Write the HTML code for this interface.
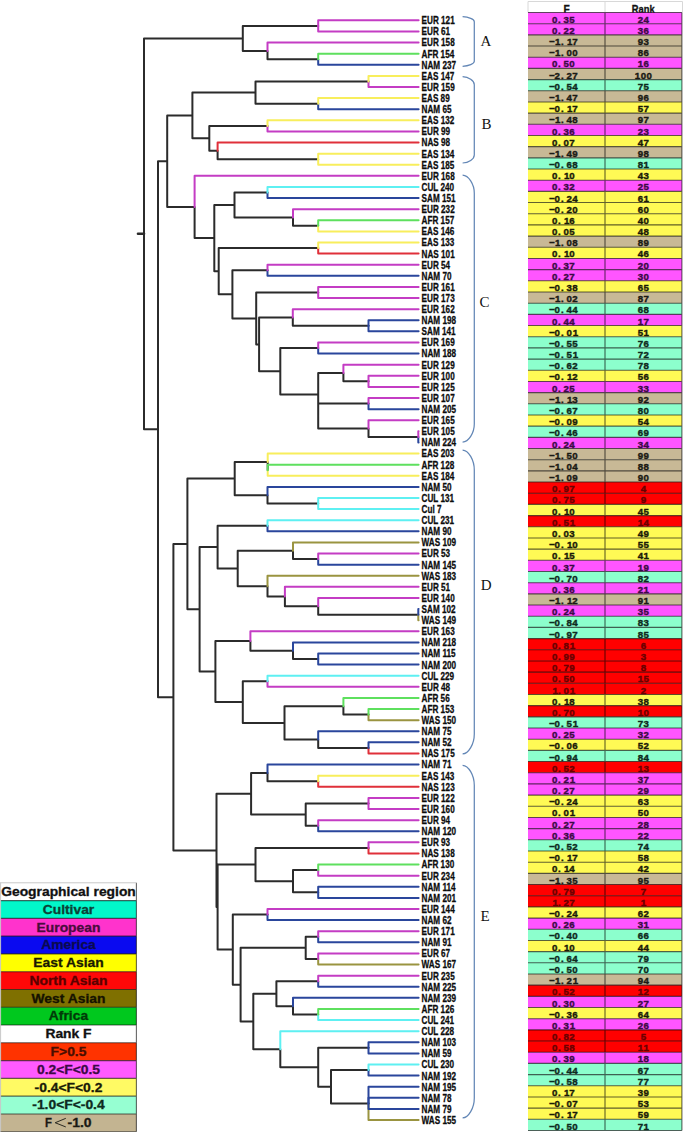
<!DOCTYPE html><html><head><meta charset="utf-8"><style>html,body{margin:0;padding:0;background:#fff;}svg{display:block}</style></head><body>
<svg width="685" height="1132" viewBox="0 0 685 1132">
<rect width="685" height="1132" fill="#fff"/>
<g fill="none" stroke-width="2" stroke-linejoin="round" stroke-linecap="round">
<path stroke="#2b2b2b" d="M267.50 50.90V59.23H318.20M242.80 38.40V25.90H318.20M242.80 38.40V50.90H267.50M255.50 92.55V81.44H368.50M255.50 92.55V103.66H318.20M217.60 150.87V159.20H318.20M209.30 138.37V125.88H267.50M209.30 138.37V150.87H217.60M192.40 115.46V92.55H255.50M192.40 115.46V138.37H209.30M293.00 217.52V225.85H318.20M234.50 205.02V192.52H267.50M234.50 205.02V217.52H293.00M292.80 317.49V325.82H368.50M343.40 373.03V381.36H368.50M368.50 428.57V436.90H418.30M318.20 416.07V403.58H368.50M318.20 416.07V428.57H368.50M318.20 394.55V373.03H343.40M318.20 394.55V416.07H318.20M280.30 371.29V348.04H318.20M280.30 371.29V394.55H318.20M259.10 344.39V317.49H292.80M259.10 344.39V371.29H280.30M256.20 318.44V292.50H318.20M256.20 318.44V344.39H259.10M232.40 294.36V270.28H267.50M232.40 294.36V318.44H256.20M218.70 271.21V248.06H318.20M218.70 271.21V294.36H232.40M214.30 238.12V205.02H234.50M214.30 238.12V271.21H218.70M194.60 206.99V238.12H214.30M167.20 161.23V115.46H192.40M167.20 161.23V206.99H194.60M267.70 461.89V470.22H267.70M267.50 495.22V503.55H318.20M234.70 478.56V461.89H267.70M234.70 478.56V495.22H267.50M293.00 550.76V559.09H318.20M318.20 606.30V614.63H418.30M284.90 596.58V606.30H318.20M267.50 586.16V596.58H284.90M237.70 568.46V550.76H293.00M237.70 568.46V586.16H267.50M217.60 547.11V525.76H267.50M217.60 547.11V568.46H237.70M293.00 650.73V659.06H318.20M250.40 641.01V650.73H293.00M343.40 706.27V714.60H368.50M318.20 739.59V747.92H368.50M284.50 722.93V706.27H343.40M284.50 722.93V739.59H318.20M242.80 702.10V681.28H267.50M242.80 702.10V722.93H284.50M215.40 671.56V641.01H250.40M215.40 671.56V702.10H242.80M199.60 609.33V547.11H217.60M199.60 609.33V671.56H215.40M187.40 543.94V478.56H234.70M187.40 543.94V609.33H199.60M267.50 772.92V781.25H318.20M305.70 814.57V803.46H368.50M305.70 814.57V825.68H318.20M251.10 793.74V772.92H267.50M251.10 793.74V814.57H305.70M293.00 881.22V870.11H318.20M293.00 881.22V892.33H318.20M255.50 864.56V847.90H368.50M255.50 864.56V881.22H293.00M305.70 947.87V936.76H318.20M305.70 947.87V958.98H318.20M293.00 1006.19V1014.52H318.20M276.40 993.69V981.19H318.20M276.40 993.69V1006.19H293.00M331.00 1086.72V1070.06H368.50M331.00 1086.72V1103.38H368.50M318.20 1067.28V1047.84H368.50M318.20 1067.28V1086.72H331.00M280.30 1049.23V1067.28H318.20M253.30 1021.46V993.69H276.40M253.30 1021.46V1049.23H280.30M240.60 984.66V947.87H305.70M240.60 984.66V1021.46H253.30M232.80 949.60V914.54H267.50M232.80 949.60V984.66H240.60M217.60 907.08V864.56H255.50M217.60 907.08V949.60H232.80M216.50 850.41V793.74H251.10M216.50 850.41V907.08H217.60M173.40 697.18V543.94H187.40M173.40 697.18V850.41H216.50M158.00 429.20V161.23H167.20M158.00 429.20V697.18H173.40M144.00 233.80V38.40H242.80M144.00 233.80V429.20H158.00"/>
<path stroke="#2b2b2b" stroke-width="2.6" d="M138 233.80H144"/>
<path stroke="#5ef0f2" d="M280.30 1049.23V1031.18H418.60"/>
<path stroke="#9a9440" d="M368.50 1103.38V1120.04H418.60"/>
<path stroke="#2a469c" d="M368.50 1103.38V1108.93H418.60"/>
<path stroke="#2a469c" d="M368.50 1103.38V1097.83H418.60"/>
<path stroke="#2a469c" d="M368.50 1103.38V1086.72H418.60"/>
<path stroke="#2a469c" d="M368.50 1070.06V1075.61H418.60"/>
<path stroke="#5ef0f2" d="M368.50 1070.06V1064.50H418.60"/>
<path stroke="#2a469c" d="M368.50 1047.84V1053.39H418.60"/>
<path stroke="#2a469c" d="M368.50 1047.84V1042.29H418.60"/>
<path stroke="#2a469c" d="M293.00 1006.19V997.85H418.60"/>
<path stroke="#5ef0f2" d="M318.20 1014.52V1020.07H418.60"/>
<path stroke="#5ee05e" d="M318.20 1014.52V1008.96H418.60"/>
<path stroke="#2a469c" d="M318.20 981.19V986.75H418.60"/>
<path stroke="#c43cc4" d="M318.20 981.19V975.64H418.60"/>
<path stroke="#9a9440" d="M318.20 958.98V964.53H418.60"/>
<path stroke="#c43cc4" d="M318.20 958.98V953.42H418.60"/>
<path stroke="#2a469c" d="M318.20 936.76V942.31H418.60"/>
<path stroke="#c43cc4" d="M318.20 936.76V931.21H418.60"/>
<path stroke="#2a469c" d="M267.50 914.54V920.10H418.60"/>
<path stroke="#c43cc4" d="M267.50 914.54V908.99H418.60"/>
<path stroke="#2a469c" d="M318.20 892.33V897.88H418.60"/>
<path stroke="#2a469c" d="M318.20 892.33V886.77H418.60"/>
<path stroke="#c43cc4" d="M318.20 870.11V875.67H418.60"/>
<path stroke="#5ee05e" d="M318.20 870.11V864.56H418.60"/>
<path stroke="#e0303a" d="M368.50 847.90V853.45H418.60"/>
<path stroke="#c43cc4" d="M368.50 847.90V842.34H418.60"/>
<path stroke="#2a469c" d="M318.20 825.68V831.23H418.60"/>
<path stroke="#c43cc4" d="M318.20 825.68V820.13H418.60"/>
<path stroke="#c43cc4" d="M368.50 803.46V809.02H418.60"/>
<path stroke="#c43cc4" d="M368.50 803.46V797.91H418.60"/>
<path stroke="#2a469c" d="M267.50 772.92V764.59H418.60"/>
<path stroke="#e0303a" d="M318.20 781.25V786.80H418.60"/>
<path stroke="#f8ee5c" d="M318.20 781.25V775.69H418.60"/>
<path stroke="#2a469c" d="M318.20 739.59V731.26H418.60"/>
<path stroke="#e0303a" d="M368.50 747.92V753.48H418.60"/>
<path stroke="#2a469c" d="M368.50 747.92V742.37H418.60"/>
<path stroke="#5ee05e" d="M343.40 706.27V697.94H418.60"/>
<path stroke="#9a9440" d="M368.50 714.60V720.15H418.60"/>
<path stroke="#5ee05e" d="M368.50 714.60V709.05H418.60"/>
<path stroke="#c43cc4" d="M267.50 681.28V686.83H418.60"/>
<path stroke="#5ef0f2" d="M267.50 681.28V675.72H418.60"/>
<path stroke="#c43cc4" d="M250.40 641.01V631.29H418.60"/>
<path stroke="#2a469c" d="M293.00 650.73V642.40H418.60"/>
<path stroke="#2a469c" d="M318.20 659.06V664.61H418.60"/>
<path stroke="#2a469c" d="M318.20 659.06V653.51H418.60"/>
<path stroke="#9a9440" d="M267.50 586.16V575.75H418.60"/>
<path stroke="#c43cc4" d="M284.90 596.58V586.86H418.60"/>
<path stroke="#c43cc4" d="M318.20 606.30V597.97H418.60"/>
<path stroke="#9a9440" d="M418.30 614.63V620.18H418.60"/>
<path stroke="#2a469c" d="M418.30 614.63V609.07H418.60"/>
<path stroke="#9a9440" d="M293.00 550.76V542.43H418.60"/>
<path stroke="#2a469c" d="M318.20 559.09V564.64H418.60"/>
<path stroke="#c43cc4" d="M318.20 559.09V553.53H418.60"/>
<path stroke="#2a469c" d="M267.50 525.76V531.32H418.60"/>
<path stroke="#5ef0f2" d="M267.50 525.76V520.21H418.60"/>
<path stroke="#2a469c" d="M267.50 495.22V486.89H418.60"/>
<path stroke="#5ef0f2" d="M318.20 503.55V509.10H418.60"/>
<path stroke="#5ef0f2" d="M318.20 503.55V497.99H418.60"/>
<path stroke="#f8ee5c" d="M267.70 461.89V453.56H418.60"/>
<path stroke="#f8ee5c" d="M267.70 470.22V475.78H418.60"/>
<path stroke="#5ee05e" d="M267.70 470.22V464.67H418.60"/>
<path stroke="#c43cc4" d="M194.60 206.99V175.86H418.60"/>
<path stroke="#c43cc4" d="M368.50 428.57V420.24H418.60"/>
<path stroke="#2a469c" d="M418.30 436.90V442.45H418.60"/>
<path stroke="#c43cc4" d="M418.30 436.90V431.35H418.60"/>
<path stroke="#2a469c" d="M368.50 403.58V409.13H418.60"/>
<path stroke="#c43cc4" d="M368.50 403.58V398.02H418.60"/>
<path stroke="#c43cc4" d="M343.40 373.03V364.70H418.60"/>
<path stroke="#c43cc4" d="M368.50 381.36V386.91H418.60"/>
<path stroke="#c43cc4" d="M368.50 381.36V375.81H418.60"/>
<path stroke="#2a469c" d="M318.20 348.04V353.59H418.60"/>
<path stroke="#c43cc4" d="M318.20 348.04V342.48H418.60"/>
<path stroke="#c43cc4" d="M292.80 317.49V309.16H418.60"/>
<path stroke="#2a469c" d="M368.50 325.82V331.37H418.60"/>
<path stroke="#2a469c" d="M368.50 325.82V320.27H418.60"/>
<path stroke="#c43cc4" d="M318.20 292.50V298.05H418.60"/>
<path stroke="#c43cc4" d="M318.20 292.50V286.94H418.60"/>
<path stroke="#2a469c" d="M267.50 270.28V275.83H418.60"/>
<path stroke="#c43cc4" d="M267.50 270.28V264.73H418.60"/>
<path stroke="#e0303a" d="M318.20 248.06V253.62H418.60"/>
<path stroke="#f8ee5c" d="M318.20 248.06V242.51H418.60"/>
<path stroke="#c43cc4" d="M293.00 217.52V209.19H418.60"/>
<path stroke="#f8ee5c" d="M318.20 225.85V231.40H418.60"/>
<path stroke="#5ee05e" d="M318.20 225.85V220.29H418.60"/>
<path stroke="#2a469c" d="M267.50 192.52V198.08H418.60"/>
<path stroke="#5ef0f2" d="M267.50 192.52V186.97H418.60"/>
<path stroke="#e0303a" d="M217.60 150.87V142.54H418.60"/>
<path stroke="#f8ee5c" d="M318.20 159.20V164.75H418.60"/>
<path stroke="#f8ee5c" d="M318.20 159.20V153.65H418.60"/>
<path stroke="#c43cc4" d="M267.50 125.88V131.43H418.60"/>
<path stroke="#f8ee5c" d="M267.50 125.88V120.32H418.60"/>
<path stroke="#2a469c" d="M318.20 103.66V109.21H418.60"/>
<path stroke="#f8ee5c" d="M318.20 103.66V98.11H418.60"/>
<path stroke="#c43cc4" d="M368.50 81.44V87.00H418.60"/>
<path stroke="#f8ee5c" d="M368.50 81.44V75.89H418.60"/>
<path stroke="#c43cc4" d="M267.50 50.90V42.57H418.60"/>
<path stroke="#2a469c" d="M318.20 59.23V64.78H418.60"/>
<path stroke="#5ee05e" d="M318.20 59.23V53.67H418.60"/>
<path stroke="#c43cc4" d="M318.20 25.90V31.46H418.60"/>
<path stroke="#c43cc4" d="M318.20 25.90V20.35H418.60"/>
</g>
<g font-family="Liberation Sans, sans-serif" font-weight="bold" font-size="10.8" fill="#0c0c0c" stroke="#0c0c0c" stroke-width="0.3">
<text x="421.6" y="24.25" textLength="33.09" lengthAdjust="spacingAndGlyphs">EUR 121</text>
<text x="421.6" y="35.36" textLength="28.55" lengthAdjust="spacingAndGlyphs">EUR 61</text>
<text x="421.6" y="46.47" textLength="33.09" lengthAdjust="spacingAndGlyphs">EUR 158</text>
<text x="421.6" y="57.57" textLength="32.63" lengthAdjust="spacingAndGlyphs">AFR 154</text>
<text x="421.6" y="68.68" textLength="34.44" lengthAdjust="spacingAndGlyphs">NAM 237</text>
<text x="421.6" y="79.79" textLength="32.64" lengthAdjust="spacingAndGlyphs">EAS 147</text>
<text x="421.6" y="90.90" textLength="33.09" lengthAdjust="spacingAndGlyphs">EUR 159</text>
<text x="421.6" y="102.01" textLength="28.10" lengthAdjust="spacingAndGlyphs">EAS 89</text>
<text x="421.6" y="113.11" textLength="29.90" lengthAdjust="spacingAndGlyphs">NAM 65</text>
<text x="421.6" y="124.22" textLength="32.64" lengthAdjust="spacingAndGlyphs">EAS 132</text>
<text x="421.6" y="135.33" textLength="28.55" lengthAdjust="spacingAndGlyphs">EUR 99</text>
<text x="421.6" y="146.44" textLength="28.55" lengthAdjust="spacingAndGlyphs">NAS 98</text>
<text x="421.6" y="157.55" textLength="32.64" lengthAdjust="spacingAndGlyphs">EAS 134</text>
<text x="421.6" y="168.65" textLength="32.64" lengthAdjust="spacingAndGlyphs">EAS 185</text>
<text x="421.6" y="179.76" textLength="33.09" lengthAdjust="spacingAndGlyphs">EUR 168</text>
<text x="421.6" y="190.87" textLength="32.48" lengthAdjust="spacingAndGlyphs">CUL 240</text>
<text x="421.6" y="201.98" textLength="33.99" lengthAdjust="spacingAndGlyphs">SAM 151</text>
<text x="421.6" y="213.09" textLength="33.09" lengthAdjust="spacingAndGlyphs">EUR 232</text>
<text x="421.6" y="224.19" textLength="32.63" lengthAdjust="spacingAndGlyphs">AFR 157</text>
<text x="421.6" y="235.30" textLength="32.64" lengthAdjust="spacingAndGlyphs">EAS 146</text>
<text x="421.6" y="246.41" textLength="32.64" lengthAdjust="spacingAndGlyphs">EAS 133</text>
<text x="421.6" y="257.52" textLength="33.09" lengthAdjust="spacingAndGlyphs">NAS 101</text>
<text x="421.6" y="268.63" textLength="28.55" lengthAdjust="spacingAndGlyphs">EUR 54</text>
<text x="421.6" y="279.73" textLength="29.90" lengthAdjust="spacingAndGlyphs">NAM 70</text>
<text x="421.6" y="290.84" textLength="33.09" lengthAdjust="spacingAndGlyphs">EUR 161</text>
<text x="421.6" y="301.95" textLength="33.09" lengthAdjust="spacingAndGlyphs">EUR 173</text>
<text x="421.6" y="313.06" textLength="33.09" lengthAdjust="spacingAndGlyphs">EUR 162</text>
<text x="421.6" y="324.17" textLength="34.44" lengthAdjust="spacingAndGlyphs">NAM 198</text>
<text x="421.6" y="335.27" textLength="33.99" lengthAdjust="spacingAndGlyphs">SAM 141</text>
<text x="421.6" y="346.38" textLength="33.09" lengthAdjust="spacingAndGlyphs">EUR 169</text>
<text x="421.6" y="357.49" textLength="34.44" lengthAdjust="spacingAndGlyphs">NAM 188</text>
<text x="421.6" y="368.60" textLength="33.09" lengthAdjust="spacingAndGlyphs">EUR 129</text>
<text x="421.6" y="379.71" textLength="33.09" lengthAdjust="spacingAndGlyphs">EUR 100</text>
<text x="421.6" y="390.81" textLength="33.09" lengthAdjust="spacingAndGlyphs">EUR 125</text>
<text x="421.6" y="401.92" textLength="33.09" lengthAdjust="spacingAndGlyphs">EUR 107</text>
<text x="421.6" y="413.03" textLength="34.44" lengthAdjust="spacingAndGlyphs">NAM 205</text>
<text x="421.6" y="424.14" textLength="33.09" lengthAdjust="spacingAndGlyphs">EUR 165</text>
<text x="421.6" y="435.25" textLength="33.09" lengthAdjust="spacingAndGlyphs">EUR 105</text>
<text x="421.6" y="446.35" textLength="34.44" lengthAdjust="spacingAndGlyphs">NAM 224</text>
<text x="421.6" y="457.46" textLength="32.64" lengthAdjust="spacingAndGlyphs">EAS 203</text>
<text x="421.6" y="468.57" textLength="32.63" lengthAdjust="spacingAndGlyphs">AFR 128</text>
<text x="421.6" y="479.68" textLength="32.64" lengthAdjust="spacingAndGlyphs">EAS 184</text>
<text x="421.6" y="490.79" textLength="29.90" lengthAdjust="spacingAndGlyphs">NAM 50</text>
<text x="421.6" y="501.89" textLength="32.48" lengthAdjust="spacingAndGlyphs">CUL 131</text>
<text x="421.6" y="513.00" textLength="19.93" lengthAdjust="spacingAndGlyphs">Cul 7</text>
<text x="421.6" y="524.11" textLength="32.48" lengthAdjust="spacingAndGlyphs">CUL 231</text>
<text x="421.6" y="535.22" textLength="29.90" lengthAdjust="spacingAndGlyphs">NAM 90</text>
<text x="421.6" y="546.33" textLength="34.44" lengthAdjust="spacingAndGlyphs">WAS 109</text>
<text x="421.6" y="557.43" textLength="28.55" lengthAdjust="spacingAndGlyphs">EUR 53</text>
<text x="421.6" y="568.54" textLength="34.44" lengthAdjust="spacingAndGlyphs">NAM 145</text>
<text x="421.6" y="579.65" textLength="34.44" lengthAdjust="spacingAndGlyphs">WAS 183</text>
<text x="421.6" y="590.76" textLength="28.55" lengthAdjust="spacingAndGlyphs">EUR 51</text>
<text x="421.6" y="601.87" textLength="33.09" lengthAdjust="spacingAndGlyphs">EUR 140</text>
<text x="421.6" y="612.97" textLength="33.99" lengthAdjust="spacingAndGlyphs">SAM 102</text>
<text x="421.6" y="624.08" textLength="34.44" lengthAdjust="spacingAndGlyphs">WAS 149</text>
<text x="421.6" y="635.19" textLength="33.09" lengthAdjust="spacingAndGlyphs">EUR 163</text>
<text x="421.6" y="646.30" textLength="34.44" lengthAdjust="spacingAndGlyphs">NAM 218</text>
<text x="421.6" y="657.41" textLength="33.99" lengthAdjust="spacingAndGlyphs">NAM 115</text>
<text x="421.6" y="668.51" textLength="34.44" lengthAdjust="spacingAndGlyphs">NAM 200</text>
<text x="421.6" y="679.62" textLength="32.48" lengthAdjust="spacingAndGlyphs">CUL 229</text>
<text x="421.6" y="690.73" textLength="28.55" lengthAdjust="spacingAndGlyphs">EUR 48</text>
<text x="421.6" y="701.84" textLength="28.09" lengthAdjust="spacingAndGlyphs">AFR 56</text>
<text x="421.6" y="712.95" textLength="32.63" lengthAdjust="spacingAndGlyphs">AFR 153</text>
<text x="421.6" y="724.05" textLength="34.44" lengthAdjust="spacingAndGlyphs">WAS 150</text>
<text x="421.6" y="735.16" textLength="29.90" lengthAdjust="spacingAndGlyphs">NAM 75</text>
<text x="421.6" y="746.27" textLength="29.90" lengthAdjust="spacingAndGlyphs">NAM 52</text>
<text x="421.6" y="757.38" textLength="33.09" lengthAdjust="spacingAndGlyphs">NAS 175</text>
<text x="421.6" y="768.49" textLength="29.90" lengthAdjust="spacingAndGlyphs">NAM 71</text>
<text x="421.6" y="779.59" textLength="32.64" lengthAdjust="spacingAndGlyphs">EAS 143</text>
<text x="421.6" y="790.70" textLength="33.09" lengthAdjust="spacingAndGlyphs">NAS 123</text>
<text x="421.6" y="801.81" textLength="33.09" lengthAdjust="spacingAndGlyphs">EUR 122</text>
<text x="421.6" y="812.92" textLength="33.09" lengthAdjust="spacingAndGlyphs">EUR 160</text>
<text x="421.6" y="824.03" textLength="28.55" lengthAdjust="spacingAndGlyphs">EUR 94</text>
<text x="421.6" y="835.13" textLength="34.44" lengthAdjust="spacingAndGlyphs">NAM 120</text>
<text x="421.6" y="846.24" textLength="28.55" lengthAdjust="spacingAndGlyphs">EUR 93</text>
<text x="421.6" y="857.35" textLength="33.09" lengthAdjust="spacingAndGlyphs">NAS 138</text>
<text x="421.6" y="868.46" textLength="32.63" lengthAdjust="spacingAndGlyphs">AFR 130</text>
<text x="421.6" y="879.57" textLength="33.09" lengthAdjust="spacingAndGlyphs">EUR 234</text>
<text x="421.6" y="890.67" textLength="33.99" lengthAdjust="spacingAndGlyphs">NAM 114</text>
<text x="421.6" y="901.78" textLength="34.44" lengthAdjust="spacingAndGlyphs">NAM 201</text>
<text x="421.6" y="912.89" textLength="33.09" lengthAdjust="spacingAndGlyphs">EUR 144</text>
<text x="421.6" y="924.00" textLength="29.90" lengthAdjust="spacingAndGlyphs">NAM 62</text>
<text x="421.6" y="935.11" textLength="33.09" lengthAdjust="spacingAndGlyphs">EUR 171</text>
<text x="421.6" y="946.21" textLength="29.90" lengthAdjust="spacingAndGlyphs">NAM 91</text>
<text x="421.6" y="957.32" textLength="28.55" lengthAdjust="spacingAndGlyphs">EUR 67</text>
<text x="421.6" y="968.43" textLength="34.44" lengthAdjust="spacingAndGlyphs">WAS 167</text>
<text x="421.6" y="979.54" textLength="33.09" lengthAdjust="spacingAndGlyphs">EUR 235</text>
<text x="421.6" y="990.65" textLength="34.44" lengthAdjust="spacingAndGlyphs">NAM 225</text>
<text x="421.6" y="1001.75" textLength="34.44" lengthAdjust="spacingAndGlyphs">NAM 239</text>
<text x="421.6" y="1012.86" textLength="32.63" lengthAdjust="spacingAndGlyphs">AFR 126</text>
<text x="421.6" y="1023.97" textLength="32.48" lengthAdjust="spacingAndGlyphs">CUL 241</text>
<text x="421.6" y="1035.08" textLength="32.48" lengthAdjust="spacingAndGlyphs">CUL 228</text>
<text x="421.6" y="1046.19" textLength="34.44" lengthAdjust="spacingAndGlyphs">NAM 103</text>
<text x="421.6" y="1057.29" textLength="29.90" lengthAdjust="spacingAndGlyphs">NAM 59</text>
<text x="421.6" y="1068.40" textLength="32.48" lengthAdjust="spacingAndGlyphs">CUL 230</text>
<text x="421.6" y="1079.51" textLength="34.44" lengthAdjust="spacingAndGlyphs">NAM 192</text>
<text x="421.6" y="1090.62" textLength="34.44" lengthAdjust="spacingAndGlyphs">NAM 195</text>
<text x="421.6" y="1101.73" textLength="29.90" lengthAdjust="spacingAndGlyphs">NAM 78</text>
<text x="421.6" y="1112.83" textLength="29.90" lengthAdjust="spacingAndGlyphs">NAM 79</text>
<text x="421.6" y="1123.94" textLength="34.44" lengthAdjust="spacingAndGlyphs">WAS 155</text>
</g>
<g fill="none" stroke="#6387b6" stroke-width="1.25">
<path d="M462.6 16.7 C468.6 16.9 474.3 19.2 474.3 21.7 V61.3 C474.3 63.8 468.6 66.1 462.6 66.3"/>
<path d="M462.6 76.7 C468.6 76.9 474.3 80.7 474.3 84.7 V155.0 C474.3 159.0 468.6 162.8 462.6 163.0"/>
<path d="M462.6 175.2 C468.6 175.39999999999998 474.3 184.2 474.3 193.2 V424.1 C474.3 433.1 468.6 441.90000000000003 462.6 442.1"/>
<path d="M462.6 450.1 C468.6 450.3 474.3 460.1 474.3 470.1 V733.9 C474.3 743.9 468.6 753.6999999999999 462.6 753.9"/>
<path d="M462.6 765.3 C468.6 765.5 474.3 775.3 474.3 785.3 V1097.9 C474.3 1107.9 468.6 1117.7 462.6 1117.9"/>
</g>
<g font-family="Liberation Serif, serif" font-size="15" fill="#111">
<text x="480.6" y="45.9">A</text>
<text x="481.6" y="129.4">B</text>
<text x="479.6" y="307.2">C</text>
<text x="480.8" y="590.0">D</text>
<text x="480.6" y="921.2">E</text>
</g>
<path d="M528.0 1.5H682.5M528.0 1.5V12.5M605.0 1.5V12.5M682.5 1.5V12.5" stroke="#d8d8d8" stroke-width="1" fill="none"/>
<g font-family="Liberation Sans, sans-serif" font-weight="bold" font-size="10.2" fill="#111" stroke="#111" stroke-width="0.3">
<text x="566.6" y="13.4" text-anchor="middle">F</text>
<text x="631.8" y="13.4" textLength="22.8" lengthAdjust="spacingAndGlyphs">Rank</text>
</g>
<rect x="528.0" y="12.50" width="153.90" height="11.18" fill="#ff55ff"/>
<rect x="528.0" y="23.68" width="153.90" height="11.18" fill="#ff55ff"/>
<rect x="528.0" y="34.86" width="153.90" height="11.18" fill="#c8b996"/>
<rect x="528.0" y="46.04" width="153.90" height="11.18" fill="#c8b996"/>
<rect x="528.0" y="57.22" width="153.90" height="11.18" fill="#ff55ff"/>
<rect x="528.0" y="68.40" width="153.90" height="11.18" fill="#c8b996"/>
<rect x="528.0" y="79.58" width="153.90" height="11.18" fill="#8cffcd"/>
<rect x="528.0" y="90.76" width="153.90" height="11.18" fill="#c8b996"/>
<rect x="528.0" y="101.94" width="153.90" height="11.18" fill="#fffa55"/>
<rect x="528.0" y="113.12" width="153.90" height="11.18" fill="#c8b996"/>
<rect x="528.0" y="124.30" width="153.90" height="11.18" fill="#ff55ff"/>
<rect x="528.0" y="135.48" width="153.90" height="11.18" fill="#fffa55"/>
<rect x="528.0" y="146.66" width="153.90" height="11.18" fill="#c8b996"/>
<rect x="528.0" y="157.84" width="153.90" height="11.18" fill="#8cffcd"/>
<rect x="528.0" y="169.02" width="153.90" height="11.18" fill="#fffa55"/>
<rect x="528.0" y="180.20" width="153.90" height="11.18" fill="#ff55ff"/>
<rect x="528.0" y="191.38" width="153.90" height="11.18" fill="#fffa55"/>
<rect x="528.0" y="202.56" width="153.90" height="11.18" fill="#fffa55"/>
<rect x="528.0" y="213.74" width="153.90" height="11.18" fill="#fffa55"/>
<rect x="528.0" y="224.92" width="153.90" height="11.18" fill="#fffa55"/>
<rect x="528.0" y="236.10" width="153.90" height="11.18" fill="#c8b996"/>
<rect x="528.0" y="247.28" width="153.90" height="11.18" fill="#fffa55"/>
<rect x="528.0" y="258.46" width="153.90" height="11.18" fill="#ff55ff"/>
<rect x="528.0" y="269.64" width="153.90" height="11.18" fill="#ff55ff"/>
<rect x="528.0" y="280.82" width="153.90" height="11.18" fill="#fffa55"/>
<rect x="528.0" y="292.00" width="153.90" height="11.18" fill="#c8b996"/>
<rect x="528.0" y="303.18" width="153.90" height="11.18" fill="#8cffcd"/>
<rect x="528.0" y="314.36" width="153.90" height="11.18" fill="#ff55ff"/>
<rect x="528.0" y="325.54" width="153.90" height="11.18" fill="#fffa55"/>
<rect x="528.0" y="336.72" width="153.90" height="11.18" fill="#8cffcd"/>
<rect x="528.0" y="347.90" width="153.90" height="11.18" fill="#8cffcd"/>
<rect x="528.0" y="359.08" width="153.90" height="11.18" fill="#8cffcd"/>
<rect x="528.0" y="370.26" width="153.90" height="11.18" fill="#fffa55"/>
<rect x="528.0" y="381.44" width="153.90" height="11.18" fill="#ff55ff"/>
<rect x="528.0" y="392.62" width="153.90" height="11.18" fill="#c8b996"/>
<rect x="528.0" y="403.80" width="153.90" height="11.18" fill="#8cffcd"/>
<rect x="528.0" y="414.98" width="153.90" height="11.18" fill="#fffa55"/>
<rect x="528.0" y="426.16" width="153.90" height="11.18" fill="#8cffcd"/>
<rect x="528.0" y="437.34" width="153.90" height="11.18" fill="#ff55ff"/>
<rect x="528.0" y="448.52" width="153.90" height="11.18" fill="#c8b996"/>
<rect x="528.0" y="459.70" width="153.90" height="11.18" fill="#c8b996"/>
<rect x="528.0" y="470.88" width="153.90" height="11.18" fill="#c8b996"/>
<rect x="528.0" y="482.06" width="153.90" height="11.18" fill="#ff0000"/>
<rect x="528.0" y="493.24" width="153.90" height="11.18" fill="#ff0000"/>
<rect x="528.0" y="504.42" width="153.90" height="11.18" fill="#fffa55"/>
<rect x="528.0" y="515.60" width="153.90" height="11.18" fill="#ff0000"/>
<rect x="528.0" y="526.78" width="153.90" height="11.18" fill="#fffa55"/>
<rect x="528.0" y="537.96" width="153.90" height="11.18" fill="#fffa55"/>
<rect x="528.0" y="549.14" width="153.90" height="11.18" fill="#fffa55"/>
<rect x="528.0" y="560.32" width="153.90" height="11.18" fill="#ff55ff"/>
<rect x="528.0" y="571.50" width="153.90" height="11.18" fill="#8cffcd"/>
<rect x="528.0" y="582.68" width="153.90" height="11.18" fill="#ff55ff"/>
<rect x="528.0" y="593.86" width="153.90" height="11.18" fill="#c8b996"/>
<rect x="528.0" y="605.04" width="153.90" height="11.18" fill="#ff55ff"/>
<rect x="528.0" y="616.22" width="153.90" height="11.18" fill="#8cffcd"/>
<rect x="528.0" y="627.40" width="153.90" height="11.18" fill="#8cffcd"/>
<rect x="528.0" y="638.58" width="153.90" height="11.18" fill="#ff0000"/>
<rect x="528.0" y="649.76" width="153.90" height="11.18" fill="#ff0000"/>
<rect x="528.0" y="660.94" width="153.90" height="11.18" fill="#ff0000"/>
<rect x="528.0" y="672.12" width="153.90" height="11.18" fill="#ff0000"/>
<rect x="528.0" y="683.30" width="153.90" height="11.18" fill="#ff0000"/>
<rect x="528.0" y="694.48" width="153.90" height="11.18" fill="#fffa55"/>
<rect x="528.0" y="705.66" width="153.90" height="11.18" fill="#ff0000"/>
<rect x="528.0" y="716.84" width="153.90" height="11.18" fill="#8cffcd"/>
<rect x="528.0" y="728.02" width="153.90" height="11.18" fill="#ff55ff"/>
<rect x="528.0" y="739.20" width="153.90" height="11.18" fill="#fffa55"/>
<rect x="528.0" y="750.38" width="153.90" height="11.18" fill="#8cffcd"/>
<rect x="528.0" y="761.56" width="153.90" height="11.18" fill="#ff0000"/>
<rect x="528.0" y="772.74" width="153.90" height="11.18" fill="#ff55ff"/>
<rect x="528.0" y="783.92" width="153.90" height="11.18" fill="#ff55ff"/>
<rect x="528.0" y="795.10" width="153.90" height="11.18" fill="#fffa55"/>
<rect x="528.0" y="806.28" width="153.90" height="11.18" fill="#fffa55"/>
<rect x="528.0" y="817.46" width="153.90" height="11.18" fill="#ff55ff"/>
<rect x="528.0" y="828.64" width="153.90" height="11.18" fill="#ff55ff"/>
<rect x="528.0" y="839.82" width="153.90" height="11.18" fill="#8cffcd"/>
<rect x="528.0" y="851.00" width="153.90" height="11.18" fill="#fffa55"/>
<rect x="528.0" y="862.18" width="153.90" height="11.18" fill="#fffa55"/>
<rect x="528.0" y="873.36" width="153.90" height="11.18" fill="#c8b996"/>
<rect x="528.0" y="884.54" width="153.90" height="11.18" fill="#ff0000"/>
<rect x="528.0" y="895.72" width="153.90" height="11.18" fill="#ff0000"/>
<rect x="528.0" y="906.90" width="153.90" height="11.18" fill="#fffa55"/>
<rect x="528.0" y="918.08" width="153.90" height="11.18" fill="#ff55ff"/>
<rect x="528.0" y="929.26" width="153.90" height="11.18" fill="#8cffcd"/>
<rect x="528.0" y="940.44" width="153.90" height="11.18" fill="#fffa55"/>
<rect x="528.0" y="951.62" width="153.90" height="11.18" fill="#8cffcd"/>
<rect x="528.0" y="962.80" width="153.90" height="11.18" fill="#8cffcd"/>
<rect x="528.0" y="973.98" width="153.90" height="11.18" fill="#c8b996"/>
<rect x="528.0" y="985.16" width="153.90" height="11.18" fill="#ff0000"/>
<rect x="528.0" y="996.34" width="153.90" height="11.18" fill="#ff55ff"/>
<rect x="528.0" y="1007.52" width="153.90" height="11.18" fill="#fffa55"/>
<rect x="528.0" y="1018.70" width="153.90" height="11.18" fill="#ff55ff"/>
<rect x="528.0" y="1029.88" width="153.90" height="11.18" fill="#ff0000"/>
<rect x="528.0" y="1041.06" width="153.90" height="11.18" fill="#ff0000"/>
<rect x="528.0" y="1052.24" width="153.90" height="11.18" fill="#ff55ff"/>
<rect x="528.0" y="1063.42" width="153.90" height="11.18" fill="#8cffcd"/>
<rect x="528.0" y="1074.60" width="153.90" height="11.18" fill="#8cffcd"/>
<rect x="528.0" y="1085.78" width="153.90" height="11.18" fill="#fffa55"/>
<rect x="528.0" y="1096.96" width="153.90" height="11.18" fill="#fffa55"/>
<rect x="528.0" y="1108.14" width="153.90" height="11.18" fill="#fffa55"/>
<rect x="528.0" y="1119.32" width="153.90" height="11.18" fill="#8cffcd"/>
<path d="M528.0 12.50H681.9M528.0 23.68H681.9M528.0 34.86H681.9M528.0 46.04H681.9M528.0 57.22H681.9M528.0 68.40H681.9M528.0 79.58H681.9M528.0 90.76H681.9M528.0 101.94H681.9M528.0 113.12H681.9M528.0 124.30H681.9M528.0 135.48H681.9M528.0 146.66H681.9M528.0 157.84H681.9M528.0 169.02H681.9M528.0 180.20H681.9M528.0 191.38H681.9M528.0 202.56H681.9M528.0 213.74H681.9M528.0 224.92H681.9M528.0 236.10H681.9M528.0 247.28H681.9M528.0 258.46H681.9M528.0 269.64H681.9M528.0 280.82H681.9M528.0 292.00H681.9M528.0 303.18H681.9M528.0 314.36H681.9M528.0 325.54H681.9M528.0 336.72H681.9M528.0 347.90H681.9M528.0 359.08H681.9M528.0 370.26H681.9M528.0 381.44H681.9M528.0 392.62H681.9M528.0 403.80H681.9M528.0 414.98H681.9M528.0 426.16H681.9M528.0 437.34H681.9M528.0 448.52H681.9M528.0 459.70H681.9M528.0 470.88H681.9M528.0 482.06H681.9M528.0 493.24H681.9M528.0 504.42H681.9M528.0 515.60H681.9M528.0 526.78H681.9M528.0 537.96H681.9M528.0 549.14H681.9M528.0 560.32H681.9M528.0 571.50H681.9M528.0 582.68H681.9M528.0 593.86H681.9M528.0 605.04H681.9M528.0 616.22H681.9M528.0 627.40H681.9M528.0 638.58H681.9M528.0 649.76H681.9M528.0 660.94H681.9M528.0 672.12H681.9M528.0 683.30H681.9M528.0 694.48H681.9M528.0 705.66H681.9M528.0 716.84H681.9M528.0 728.02H681.9M528.0 739.20H681.9M528.0 750.38H681.9M528.0 761.56H681.9M528.0 772.74H681.9M528.0 783.92H681.9M528.0 795.10H681.9M528.0 806.28H681.9M528.0 817.46H681.9M528.0 828.64H681.9M528.0 839.82H681.9M528.0 851.00H681.9M528.0 862.18H681.9M528.0 873.36H681.9M528.0 884.54H681.9M528.0 895.72H681.9M528.0 906.90H681.9M528.0 918.08H681.9M528.0 929.26H681.9M528.0 940.44H681.9M528.0 951.62H681.9M528.0 962.80H681.9M528.0 973.98H681.9M528.0 985.16H681.9M528.0 996.34H681.9M528.0 1007.52H681.9M528.0 1018.70H681.9M528.0 1029.88H681.9M528.0 1041.06H681.9M528.0 1052.24H681.9M528.0 1063.42H681.9M528.0 1074.60H681.9M528.0 1085.78H681.9M528.0 1096.96H681.9M528.0 1108.14H681.9M528.0 1119.32H681.9M528.0 1130.50H681.9M605.0 12.5V1130.50M681.9 12.5V1130.50" stroke="#000" stroke-opacity="0.62" stroke-width="1.1" fill="none"/>
<g font-family="Liberation Sans, sans-serif" font-weight="bold" font-size="9.7" text-anchor="middle">
<text y="22.70" fill="#3c0a46" stroke="#3c0a46" stroke-width="0.4" x="554.65 559.35 566.25 572.05">0.35</text>
<text y="22.70" fill="#3c0a46" stroke="#3c0a46" stroke-width="0.4" x="640.48 646.32">24</text>
<text y="33.88" fill="#3c0a46" stroke="#3c0a46" stroke-width="0.4" x="554.65 559.35 566.25 572.05">0.22</text>
<text y="33.88" fill="#3c0a46" stroke="#3c0a46" stroke-width="0.4" x="640.48 646.32">36</text>
<text y="45.06" fill="#1a1a14" stroke="#1a1a14" stroke-width="0.4" x="552.05 557.65 562.25 569.65 574.95">−1.17</text>
<text y="45.06" fill="#1a1a14" stroke="#1a1a14" stroke-width="0.4" x="640.48 646.32">93</text>
<text y="56.24" fill="#1a1a14" stroke="#1a1a14" stroke-width="0.4" x="552.05 557.65 562.25 569.15 574.95">−1.00</text>
<text y="56.24" fill="#1a1a14" stroke="#1a1a14" stroke-width="0.4" x="640.48 646.32">86</text>
<text y="67.42" fill="#3c0a46" stroke="#3c0a46" stroke-width="0.4" x="554.65 559.35 566.25 572.05">0.50</text>
<text y="67.42" fill="#3c0a46" stroke="#3c0a46" stroke-width="0.4" x="640.48 646.32">16</text>
<text y="78.60" fill="#1a1a14" stroke="#1a1a14" stroke-width="0.4" x="552.05 557.15 562.25 569.15 574.95">−2.27</text>
<text y="78.60" fill="#1a1a14" stroke="#1a1a14" stroke-width="0.4" x="637.56 643.40 649.24">100</text>
<text y="89.78" fill="#0e2a20" stroke="#0e2a20" stroke-width="0.4" x="552.05 557.15 562.25 569.15 574.95">−0.54</text>
<text y="89.78" fill="#0e2a20" stroke="#0e2a20" stroke-width="0.4" x="640.48 646.32">75</text>
<text y="100.96" fill="#1a1a14" stroke="#1a1a14" stroke-width="0.4" x="552.05 557.65 562.25 569.15 574.95">−1.47</text>
<text y="100.96" fill="#1a1a14" stroke="#1a1a14" stroke-width="0.4" x="640.48 646.32">96</text>
<text y="112.14" fill="#1a1a08" stroke="#1a1a08" stroke-width="0.4" x="552.05 557.15 562.25 569.65 574.95">−0.17</text>
<text y="112.14" fill="#1a1a08" stroke="#1a1a08" stroke-width="0.4" x="640.48 646.32">57</text>
<text y="123.32" fill="#1a1a14" stroke="#1a1a14" stroke-width="0.4" x="552.05 557.65 562.25 569.15 574.95">−1.48</text>
<text y="123.32" fill="#1a1a14" stroke="#1a1a14" stroke-width="0.4" x="640.48 646.32">97</text>
<text y="134.50" fill="#3c0a46" stroke="#3c0a46" stroke-width="0.4" x="554.65 559.35 566.25 572.05">0.36</text>
<text y="134.50" fill="#3c0a46" stroke="#3c0a46" stroke-width="0.4" x="640.48 646.32">23</text>
<text y="145.68" fill="#1a1a08" stroke="#1a1a08" stroke-width="0.4" x="554.65 559.35 566.25 572.05">0.07</text>
<text y="145.68" fill="#1a1a08" stroke="#1a1a08" stroke-width="0.4" x="640.48 646.32">47</text>
<text y="156.86" fill="#1a1a14" stroke="#1a1a14" stroke-width="0.4" x="552.05 557.65 562.25 569.15 574.95">−1.49</text>
<text y="156.86" fill="#1a1a14" stroke="#1a1a14" stroke-width="0.4" x="640.48 646.32">98</text>
<text y="168.04" fill="#0e2a20" stroke="#0e2a20" stroke-width="0.4" x="552.05 557.15 562.25 569.15 574.95">−0.68</text>
<text y="168.04" fill="#0e2a20" stroke="#0e2a20" stroke-width="0.4" x="640.48 646.32">81</text>
<text y="179.22" fill="#1a1a08" stroke="#1a1a08" stroke-width="0.4" x="554.65 559.35 566.75 572.05">0.10</text>
<text y="179.22" fill="#1a1a08" stroke="#1a1a08" stroke-width="0.4" x="640.48 646.32">43</text>
<text y="190.40" fill="#3c0a46" stroke="#3c0a46" stroke-width="0.4" x="554.65 559.35 566.25 572.05">0.32</text>
<text y="190.40" fill="#3c0a46" stroke="#3c0a46" stroke-width="0.4" x="640.48 646.32">25</text>
<text y="201.58" fill="#1a1a08" stroke="#1a1a08" stroke-width="0.4" x="552.05 557.15 562.25 569.15 574.95">−0.24</text>
<text y="201.58" fill="#1a1a08" stroke="#1a1a08" stroke-width="0.4" x="640.48 646.32">61</text>
<text y="212.76" fill="#1a1a08" stroke="#1a1a08" stroke-width="0.4" x="552.05 557.15 562.25 569.15 574.95">−0.20</text>
<text y="212.76" fill="#1a1a08" stroke="#1a1a08" stroke-width="0.4" x="640.48 646.32">60</text>
<text y="223.94" fill="#1a1a08" stroke="#1a1a08" stroke-width="0.4" x="554.65 559.35 566.75 572.05">0.16</text>
<text y="223.94" fill="#1a1a08" stroke="#1a1a08" stroke-width="0.4" x="640.48 646.32">40</text>
<text y="235.12" fill="#1a1a08" stroke="#1a1a08" stroke-width="0.4" x="554.65 559.35 566.25 572.05">0.05</text>
<text y="235.12" fill="#1a1a08" stroke="#1a1a08" stroke-width="0.4" x="640.48 646.32">48</text>
<text y="246.30" fill="#1a1a14" stroke="#1a1a14" stroke-width="0.4" x="552.05 557.65 562.25 569.15 574.95">−1.08</text>
<text y="246.30" fill="#1a1a14" stroke="#1a1a14" stroke-width="0.4" x="640.48 646.32">89</text>
<text y="257.48" fill="#1a1a08" stroke="#1a1a08" stroke-width="0.4" x="554.65 559.35 566.75 572.05">0.10</text>
<text y="257.48" fill="#1a1a08" stroke="#1a1a08" stroke-width="0.4" x="640.48 646.32">46</text>
<text y="268.66" fill="#3c0a46" stroke="#3c0a46" stroke-width="0.4" x="554.65 559.35 566.25 572.05">0.37</text>
<text y="268.66" fill="#3c0a46" stroke="#3c0a46" stroke-width="0.4" x="640.48 646.32">20</text>
<text y="279.84" fill="#3c0a46" stroke="#3c0a46" stroke-width="0.4" x="554.65 559.35 566.25 572.05">0.27</text>
<text y="279.84" fill="#3c0a46" stroke="#3c0a46" stroke-width="0.4" x="640.48 646.32">30</text>
<text y="291.02" fill="#1a1a08" stroke="#1a1a08" stroke-width="0.4" x="552.05 557.15 562.25 569.15 574.95">−0.38</text>
<text y="291.02" fill="#1a1a08" stroke="#1a1a08" stroke-width="0.4" x="640.48 646.32">65</text>
<text y="302.20" fill="#1a1a14" stroke="#1a1a14" stroke-width="0.4" x="552.05 557.65 562.25 569.15 574.95">−1.02</text>
<text y="302.20" fill="#1a1a14" stroke="#1a1a14" stroke-width="0.4" x="640.48 646.32">87</text>
<text y="313.38" fill="#0e2a20" stroke="#0e2a20" stroke-width="0.4" x="552.05 557.15 562.25 569.15 574.95">−0.44</text>
<text y="313.38" fill="#0e2a20" stroke="#0e2a20" stroke-width="0.4" x="640.48 646.32">68</text>
<text y="324.56" fill="#3c0a46" stroke="#3c0a46" stroke-width="0.4" x="554.65 559.35 566.25 572.05">0.44</text>
<text y="324.56" fill="#3c0a46" stroke="#3c0a46" stroke-width="0.4" x="640.48 646.32">17</text>
<text y="335.74" fill="#1a1a08" stroke="#1a1a08" stroke-width="0.4" x="552.05 557.15 562.25 569.15 575.45">−0.01</text>
<text y="335.74" fill="#1a1a08" stroke="#1a1a08" stroke-width="0.4" x="640.48 646.32">51</text>
<text y="346.92" fill="#0e2a20" stroke="#0e2a20" stroke-width="0.4" x="552.05 557.15 562.25 569.15 574.95">−0.55</text>
<text y="346.92" fill="#0e2a20" stroke="#0e2a20" stroke-width="0.4" x="640.48 646.32">76</text>
<text y="358.10" fill="#0e2a20" stroke="#0e2a20" stroke-width="0.4" x="552.05 557.15 562.25 569.15 575.45">−0.51</text>
<text y="358.10" fill="#0e2a20" stroke="#0e2a20" stroke-width="0.4" x="640.48 646.32">72</text>
<text y="369.28" fill="#0e2a20" stroke="#0e2a20" stroke-width="0.4" x="552.05 557.15 562.25 569.15 574.95">−0.62</text>
<text y="369.28" fill="#0e2a20" stroke="#0e2a20" stroke-width="0.4" x="640.48 646.32">78</text>
<text y="380.46" fill="#1a1a08" stroke="#1a1a08" stroke-width="0.4" x="552.05 557.15 562.25 569.65 574.95">−0.12</text>
<text y="380.46" fill="#1a1a08" stroke="#1a1a08" stroke-width="0.4" x="640.48 646.32">56</text>
<text y="391.64" fill="#3c0a46" stroke="#3c0a46" stroke-width="0.4" x="554.65 559.35 566.25 572.05">0.25</text>
<text y="391.64" fill="#3c0a46" stroke="#3c0a46" stroke-width="0.4" x="640.48 646.32">33</text>
<text y="402.82" fill="#1a1a14" stroke="#1a1a14" stroke-width="0.4" x="552.05 557.65 562.25 569.65 574.95">−1.13</text>
<text y="402.82" fill="#1a1a14" stroke="#1a1a14" stroke-width="0.4" x="640.48 646.32">92</text>
<text y="414.00" fill="#0e2a20" stroke="#0e2a20" stroke-width="0.4" x="552.05 557.15 562.25 569.15 574.95">−0.67</text>
<text y="414.00" fill="#0e2a20" stroke="#0e2a20" stroke-width="0.4" x="640.48 646.32">80</text>
<text y="425.18" fill="#1a1a08" stroke="#1a1a08" stroke-width="0.4" x="552.05 557.15 562.25 569.15 574.95">−0.09</text>
<text y="425.18" fill="#1a1a08" stroke="#1a1a08" stroke-width="0.4" x="640.48 646.32">54</text>
<text y="436.36" fill="#0e2a20" stroke="#0e2a20" stroke-width="0.4" x="552.05 557.15 562.25 569.15 574.95">−0.46</text>
<text y="436.36" fill="#0e2a20" stroke="#0e2a20" stroke-width="0.4" x="640.48 646.32">69</text>
<text y="447.54" fill="#3c0a46" stroke="#3c0a46" stroke-width="0.4" x="554.65 559.35 566.25 572.05">0.24</text>
<text y="447.54" fill="#3c0a46" stroke="#3c0a46" stroke-width="0.4" x="640.48 646.32">34</text>
<text y="458.72" fill="#1a1a14" stroke="#1a1a14" stroke-width="0.4" x="552.05 557.65 562.25 569.15 574.95">−1.50</text>
<text y="458.72" fill="#1a1a14" stroke="#1a1a14" stroke-width="0.4" x="640.48 646.32">99</text>
<text y="469.90" fill="#1a1a14" stroke="#1a1a14" stroke-width="0.4" x="552.05 557.65 562.25 569.15 574.95">−1.04</text>
<text y="469.90" fill="#1a1a14" stroke="#1a1a14" stroke-width="0.4" x="640.48 646.32">88</text>
<text y="481.08" fill="#1a1a14" stroke="#1a1a14" stroke-width="0.4" x="552.05 557.65 562.25 569.15 574.95">−1.09</text>
<text y="481.08" fill="#1a1a14" stroke="#1a1a14" stroke-width="0.4" x="640.48 646.32">90</text>
<text y="492.26" fill="#6a0000" stroke="#6a0000" stroke-width="0.4" x="554.65 559.35 566.25 572.05">0.97</text>
<text y="492.26" fill="#6a0000" stroke="#6a0000" stroke-width="0.4" x="643.40">4</text>
<text y="503.44" fill="#6a0000" stroke="#6a0000" stroke-width="0.4" x="554.65 559.35 566.25 572.05">0.75</text>
<text y="503.44" fill="#6a0000" stroke="#6a0000" stroke-width="0.4" x="643.40">9</text>
<text y="514.62" fill="#1a1a08" stroke="#1a1a08" stroke-width="0.4" x="554.65 559.35 566.75 572.05">0.10</text>
<text y="514.62" fill="#1a1a08" stroke="#1a1a08" stroke-width="0.4" x="640.48 646.32">45</text>
<text y="525.80" fill="#6a0000" stroke="#6a0000" stroke-width="0.4" x="554.65 559.35 566.25 572.55">0.51</text>
<text y="525.80" fill="#6a0000" stroke="#6a0000" stroke-width="0.4" x="640.48 646.32">14</text>
<text y="536.98" fill="#1a1a08" stroke="#1a1a08" stroke-width="0.4" x="554.65 559.35 566.25 572.05">0.03</text>
<text y="536.98" fill="#1a1a08" stroke="#1a1a08" stroke-width="0.4" x="640.48 646.32">49</text>
<text y="548.16" fill="#1a1a08" stroke="#1a1a08" stroke-width="0.4" x="552.05 557.15 562.25 569.65 574.95">−0.10</text>
<text y="548.16" fill="#1a1a08" stroke="#1a1a08" stroke-width="0.4" x="640.48 646.32">55</text>
<text y="559.34" fill="#1a1a08" stroke="#1a1a08" stroke-width="0.4" x="554.65 559.35 566.75 572.05">0.15</text>
<text y="559.34" fill="#1a1a08" stroke="#1a1a08" stroke-width="0.4" x="640.48 646.32">41</text>
<text y="570.52" fill="#3c0a46" stroke="#3c0a46" stroke-width="0.4" x="554.65 559.35 566.25 572.05">0.37</text>
<text y="570.52" fill="#3c0a46" stroke="#3c0a46" stroke-width="0.4" x="640.48 646.32">19</text>
<text y="581.70" fill="#0e2a20" stroke="#0e2a20" stroke-width="0.4" x="552.05 557.15 562.25 569.15 574.95">−0.70</text>
<text y="581.70" fill="#0e2a20" stroke="#0e2a20" stroke-width="0.4" x="640.48 646.32">82</text>
<text y="592.88" fill="#3c0a46" stroke="#3c0a46" stroke-width="0.4" x="554.65 559.35 566.25 572.05">0.36</text>
<text y="592.88" fill="#3c0a46" stroke="#3c0a46" stroke-width="0.4" x="640.48 646.32">21</text>
<text y="604.06" fill="#1a1a14" stroke="#1a1a14" stroke-width="0.4" x="552.05 557.65 562.25 569.65 574.95">−1.12</text>
<text y="604.06" fill="#1a1a14" stroke="#1a1a14" stroke-width="0.4" x="640.48 646.32">91</text>
<text y="615.24" fill="#3c0a46" stroke="#3c0a46" stroke-width="0.4" x="554.65 559.35 566.25 572.05">0.24</text>
<text y="615.24" fill="#3c0a46" stroke="#3c0a46" stroke-width="0.4" x="640.48 646.32">35</text>
<text y="626.42" fill="#0e2a20" stroke="#0e2a20" stroke-width="0.4" x="552.05 557.15 562.25 569.15 574.95">−0.84</text>
<text y="626.42" fill="#0e2a20" stroke="#0e2a20" stroke-width="0.4" x="640.48 646.32">83</text>
<text y="637.60" fill="#0e2a20" stroke="#0e2a20" stroke-width="0.4" x="552.05 557.15 562.25 569.15 574.95">−0.97</text>
<text y="637.60" fill="#0e2a20" stroke="#0e2a20" stroke-width="0.4" x="640.48 646.32">85</text>
<text y="648.78" fill="#6a0000" stroke="#6a0000" stroke-width="0.4" x="554.65 559.35 566.25 572.55">0.81</text>
<text y="648.78" fill="#6a0000" stroke="#6a0000" stroke-width="0.4" x="643.40">6</text>
<text y="659.96" fill="#6a0000" stroke="#6a0000" stroke-width="0.4" x="554.65 559.35 566.25 572.05">0.99</text>
<text y="659.96" fill="#6a0000" stroke="#6a0000" stroke-width="0.4" x="643.40">3</text>
<text y="671.14" fill="#6a0000" stroke="#6a0000" stroke-width="0.4" x="554.65 559.35 566.25 572.05">0.79</text>
<text y="671.14" fill="#6a0000" stroke="#6a0000" stroke-width="0.4" x="643.40">8</text>
<text y="682.32" fill="#6a0000" stroke="#6a0000" stroke-width="0.4" x="554.65 559.35 566.25 572.05">0.50</text>
<text y="682.32" fill="#6a0000" stroke="#6a0000" stroke-width="0.4" x="640.48 646.32">15</text>
<text y="693.50" fill="#6a0000" stroke="#6a0000" stroke-width="0.4" x="555.15 559.35 566.25 572.55">1.01</text>
<text y="693.50" fill="#6a0000" stroke="#6a0000" stroke-width="0.4" x="643.40">2</text>
<text y="704.68" fill="#1a1a08" stroke="#1a1a08" stroke-width="0.4" x="554.65 559.35 566.75 572.05">0.18</text>
<text y="704.68" fill="#1a1a08" stroke="#1a1a08" stroke-width="0.4" x="640.48 646.32">38</text>
<text y="715.86" fill="#6a0000" stroke="#6a0000" stroke-width="0.4" x="554.65 559.35 566.25 572.05">0.70</text>
<text y="715.86" fill="#6a0000" stroke="#6a0000" stroke-width="0.4" x="640.48 646.32">10</text>
<text y="727.04" fill="#0e2a20" stroke="#0e2a20" stroke-width="0.4" x="552.05 557.15 562.25 569.15 575.45">−0.51</text>
<text y="727.04" fill="#0e2a20" stroke="#0e2a20" stroke-width="0.4" x="640.48 646.32">73</text>
<text y="738.22" fill="#3c0a46" stroke="#3c0a46" stroke-width="0.4" x="554.65 559.35 566.25 572.05">0.25</text>
<text y="738.22" fill="#3c0a46" stroke="#3c0a46" stroke-width="0.4" x="640.48 646.32">32</text>
<text y="749.40" fill="#1a1a08" stroke="#1a1a08" stroke-width="0.4" x="552.05 557.15 562.25 569.15 574.95">−0.06</text>
<text y="749.40" fill="#1a1a08" stroke="#1a1a08" stroke-width="0.4" x="640.48 646.32">52</text>
<text y="760.58" fill="#0e2a20" stroke="#0e2a20" stroke-width="0.4" x="552.05 557.15 562.25 569.15 574.95">−0.94</text>
<text y="760.58" fill="#0e2a20" stroke="#0e2a20" stroke-width="0.4" x="640.48 646.32">84</text>
<text y="771.76" fill="#6a0000" stroke="#6a0000" stroke-width="0.4" x="554.65 559.35 566.25 572.05">0.52</text>
<text y="771.76" fill="#6a0000" stroke="#6a0000" stroke-width="0.4" x="640.48 646.32">13</text>
<text y="782.94" fill="#3c0a46" stroke="#3c0a46" stroke-width="0.4" x="554.65 559.35 566.25 572.55">0.21</text>
<text y="782.94" fill="#3c0a46" stroke="#3c0a46" stroke-width="0.4" x="640.48 646.32">37</text>
<text y="794.12" fill="#3c0a46" stroke="#3c0a46" stroke-width="0.4" x="554.65 559.35 566.25 572.05">0.27</text>
<text y="794.12" fill="#3c0a46" stroke="#3c0a46" stroke-width="0.4" x="640.48 646.32">29</text>
<text y="805.30" fill="#1a1a08" stroke="#1a1a08" stroke-width="0.4" x="552.05 557.15 562.25 569.15 574.95">−0.24</text>
<text y="805.30" fill="#1a1a08" stroke="#1a1a08" stroke-width="0.4" x="640.48 646.32">63</text>
<text y="816.48" fill="#1a1a08" stroke="#1a1a08" stroke-width="0.4" x="554.65 559.35 566.25 572.55">0.01</text>
<text y="816.48" fill="#1a1a08" stroke="#1a1a08" stroke-width="0.4" x="640.48 646.32">50</text>
<text y="827.66" fill="#3c0a46" stroke="#3c0a46" stroke-width="0.4" x="554.65 559.35 566.25 572.05">0.27</text>
<text y="827.66" fill="#3c0a46" stroke="#3c0a46" stroke-width="0.4" x="640.48 646.32">28</text>
<text y="838.84" fill="#3c0a46" stroke="#3c0a46" stroke-width="0.4" x="554.65 559.35 566.25 572.05">0.36</text>
<text y="838.84" fill="#3c0a46" stroke="#3c0a46" stroke-width="0.4" x="640.48 646.32">22</text>
<text y="850.02" fill="#0e2a20" stroke="#0e2a20" stroke-width="0.4" x="552.05 557.15 562.25 569.15 574.95">−0.52</text>
<text y="850.02" fill="#0e2a20" stroke="#0e2a20" stroke-width="0.4" x="640.48 646.32">74</text>
<text y="861.20" fill="#1a1a08" stroke="#1a1a08" stroke-width="0.4" x="552.05 557.15 562.25 569.65 574.95">−0.17</text>
<text y="861.20" fill="#1a1a08" stroke="#1a1a08" stroke-width="0.4" x="640.48 646.32">58</text>
<text y="872.38" fill="#1a1a08" stroke="#1a1a08" stroke-width="0.4" x="554.65 559.35 566.75 572.05">0.14</text>
<text y="872.38" fill="#1a1a08" stroke="#1a1a08" stroke-width="0.4" x="640.48 646.32">42</text>
<text y="883.56" fill="#1a1a14" stroke="#1a1a14" stroke-width="0.4" x="552.05 557.65 562.25 569.15 574.95">−1.35</text>
<text y="883.56" fill="#1a1a14" stroke="#1a1a14" stroke-width="0.4" x="640.48 646.32">95</text>
<text y="894.74" fill="#6a0000" stroke="#6a0000" stroke-width="0.4" x="554.65 559.35 566.25 572.05">0.79</text>
<text y="894.74" fill="#6a0000" stroke="#6a0000" stroke-width="0.4" x="643.40">7</text>
<text y="905.92" fill="#6a0000" stroke="#6a0000" stroke-width="0.4" x="555.15 559.35 566.25 572.05">1.27</text>
<text y="905.92" fill="#6a0000" stroke="#6a0000" stroke-width="0.4" x="643.40">1</text>
<text y="917.10" fill="#1a1a08" stroke="#1a1a08" stroke-width="0.4" x="552.05 557.15 562.25 569.15 574.95">−0.24</text>
<text y="917.10" fill="#1a1a08" stroke="#1a1a08" stroke-width="0.4" x="640.48 646.32">62</text>
<text y="928.28" fill="#3c0a46" stroke="#3c0a46" stroke-width="0.4" x="554.65 559.35 566.25 572.05">0.26</text>
<text y="928.28" fill="#3c0a46" stroke="#3c0a46" stroke-width="0.4" x="640.48 646.32">31</text>
<text y="939.46" fill="#0e2a20" stroke="#0e2a20" stroke-width="0.4" x="552.05 557.15 562.25 569.15 574.95">−0.40</text>
<text y="939.46" fill="#0e2a20" stroke="#0e2a20" stroke-width="0.4" x="640.48 646.32">66</text>
<text y="950.64" fill="#1a1a08" stroke="#1a1a08" stroke-width="0.4" x="554.65 559.35 566.75 572.05">0.10</text>
<text y="950.64" fill="#1a1a08" stroke="#1a1a08" stroke-width="0.4" x="640.48 646.32">44</text>
<text y="961.82" fill="#0e2a20" stroke="#0e2a20" stroke-width="0.4" x="552.05 557.15 562.25 569.15 574.95">−0.64</text>
<text y="961.82" fill="#0e2a20" stroke="#0e2a20" stroke-width="0.4" x="640.48 646.32">79</text>
<text y="973.00" fill="#0e2a20" stroke="#0e2a20" stroke-width="0.4" x="552.05 557.15 562.25 569.15 574.95">−0.50</text>
<text y="973.00" fill="#0e2a20" stroke="#0e2a20" stroke-width="0.4" x="640.48 646.32">70</text>
<text y="984.18" fill="#1a1a14" stroke="#1a1a14" stroke-width="0.4" x="552.05 557.65 562.25 569.15 575.45">−1.21</text>
<text y="984.18" fill="#1a1a14" stroke="#1a1a14" stroke-width="0.4" x="640.48 646.32">94</text>
<text y="995.36" fill="#6a0000" stroke="#6a0000" stroke-width="0.4" x="554.65 559.35 566.25 572.05">0.52</text>
<text y="995.36" fill="#6a0000" stroke="#6a0000" stroke-width="0.4" x="640.48 646.32">12</text>
<text y="1006.54" fill="#3c0a46" stroke="#3c0a46" stroke-width="0.4" x="554.65 559.35 566.25 572.05">0.30</text>
<text y="1006.54" fill="#3c0a46" stroke="#3c0a46" stroke-width="0.4" x="640.48 646.32">27</text>
<text y="1017.72" fill="#1a1a08" stroke="#1a1a08" stroke-width="0.4" x="552.05 557.15 562.25 569.15 574.95">−0.36</text>
<text y="1017.72" fill="#1a1a08" stroke="#1a1a08" stroke-width="0.4" x="640.48 646.32">64</text>
<text y="1028.90" fill="#3c0a46" stroke="#3c0a46" stroke-width="0.4" x="554.65 559.35 566.25 572.55">0.31</text>
<text y="1028.90" fill="#3c0a46" stroke="#3c0a46" stroke-width="0.4" x="640.48 646.32">26</text>
<text y="1040.08" fill="#6a0000" stroke="#6a0000" stroke-width="0.4" x="554.65 559.35 566.25 572.05">0.82</text>
<text y="1040.08" fill="#6a0000" stroke="#6a0000" stroke-width="0.4" x="643.40">5</text>
<text y="1051.26" fill="#6a0000" stroke="#6a0000" stroke-width="0.4" x="554.65 559.35 566.25 572.05">0.58</text>
<text y="1051.26" fill="#6a0000" stroke="#6a0000" stroke-width="0.4" x="640.48 646.32">11</text>
<text y="1062.44" fill="#3c0a46" stroke="#3c0a46" stroke-width="0.4" x="554.65 559.35 566.25 572.05">0.39</text>
<text y="1062.44" fill="#3c0a46" stroke="#3c0a46" stroke-width="0.4" x="640.48 646.32">18</text>
<text y="1073.62" fill="#0e2a20" stroke="#0e2a20" stroke-width="0.4" x="552.05 557.15 562.25 569.15 574.95">−0.44</text>
<text y="1073.62" fill="#0e2a20" stroke="#0e2a20" stroke-width="0.4" x="640.48 646.32">67</text>
<text y="1084.80" fill="#0e2a20" stroke="#0e2a20" stroke-width="0.4" x="552.05 557.15 562.25 569.15 574.95">−0.58</text>
<text y="1084.80" fill="#0e2a20" stroke="#0e2a20" stroke-width="0.4" x="640.48 646.32">77</text>
<text y="1095.98" fill="#1a1a08" stroke="#1a1a08" stroke-width="0.4" x="554.65 559.35 566.75 572.05">0.17</text>
<text y="1095.98" fill="#1a1a08" stroke="#1a1a08" stroke-width="0.4" x="640.48 646.32">39</text>
<text y="1107.16" fill="#1a1a08" stroke="#1a1a08" stroke-width="0.4" x="552.05 557.15 562.25 569.15 574.95">−0.07</text>
<text y="1107.16" fill="#1a1a08" stroke="#1a1a08" stroke-width="0.4" x="640.48 646.32">53</text>
<text y="1118.34" fill="#1a1a08" stroke="#1a1a08" stroke-width="0.4" x="552.05 557.15 562.25 569.65 574.95">−0.17</text>
<text y="1118.34" fill="#1a1a08" stroke="#1a1a08" stroke-width="0.4" x="640.48 646.32">59</text>
<text y="1129.52" fill="#0e2a20" stroke="#0e2a20" stroke-width="0.4" x="552.05 557.15 562.25 569.15 574.95">−0.50</text>
<text y="1129.52" fill="#0e2a20" stroke="#0e2a20" stroke-width="0.4" x="640.48 646.32">71</text>
</g>
<rect x="0.0" y="882.80" width="136.40" height="17.78" fill="#ffffff"/>
<rect x="0.0" y="900.58" width="136.40" height="17.78" fill="#02f8ca"/>
<rect x="0.0" y="918.36" width="136.40" height="17.78" fill="#ff33cc"/>
<rect x="0.0" y="936.14" width="136.40" height="17.78" fill="#0a0af0"/>
<rect x="0.0" y="953.92" width="136.40" height="17.78" fill="#ffff00"/>
<rect x="0.0" y="971.70" width="136.40" height="17.78" fill="#ff0808"/>
<rect x="0.0" y="989.48" width="136.40" height="17.78" fill="#7f7000"/>
<rect x="0.0" y="1007.26" width="136.40" height="17.78" fill="#00c81e"/>
<rect x="0.0" y="1025.04" width="136.40" height="17.78" fill="#ffffff"/>
<rect x="0.0" y="1042.82" width="136.40" height="17.78" fill="#ff3300"/>
<rect x="0.0" y="1060.60" width="136.40" height="17.78" fill="#ff5aff"/>
<rect x="0.0" y="1078.38" width="136.40" height="17.78" fill="#fffa64"/>
<rect x="0.0" y="1096.16" width="136.40" height="17.78" fill="#96ffd2"/>
<rect x="0.0" y="1113.94" width="136.40" height="17.78" fill="#c3b491"/>
<path d="M0.0 900.58H136.4M0.0 918.36H136.4M0.0 936.14H136.4M0.0 953.92H136.4M0.0 971.70H136.4M0.0 989.48H136.4M0.0 1007.26H136.4M0.0 1025.04H136.4M0.0 1042.82H136.4M0.0 1060.60H136.4M0.0 1078.38H136.4M0.0 1096.16H136.4M0.0 1113.94H136.4M0.0 1131.72H136.4M136.4 882.8V1131.72" stroke="#000" stroke-opacity="0.6" stroke-width="1.1" fill="none"/>
<path d="M0.6 882.8V1131.72M0 882.8H136.4" stroke="#c8c8c8" stroke-width="1" fill="none"/>
<g font-family="Liberation Sans, sans-serif" font-weight="bold" font-size="12.2" stroke-width="0.3">
<text x="1.18" y="896.00" fill="#111" stroke="#111" textLength="134.65" lengthAdjust="spacingAndGlyphs">Geographical region</text>
<text x="42.72" y="913.78" fill="#0b4236" stroke="#0b4236" textLength="51.55" lengthAdjust="spacingAndGlyphs">Cultivar</text>
<text x="36.57" y="931.56" fill="#4a0c3c" stroke="#4a0c3c" textLength="63.86" lengthAdjust="spacingAndGlyphs">European</text>
<text x="41.17" y="949.34" fill="#0a0a50" stroke="#0a0a50" textLength="54.65" lengthAdjust="spacingAndGlyphs">America</text>
<text x="33.36" y="967.12" fill="#1a1a00" stroke="#1a1a00" textLength="70.29" lengthAdjust="spacingAndGlyphs">East Asian</text>
<text x="29.52" y="984.90" fill="#5a0000" stroke="#5a0000" textLength="77.96" lengthAdjust="spacingAndGlyphs">North Asian</text>
<text x="31.56" y="1002.68" fill="#151200" stroke="#151200" textLength="73.87" lengthAdjust="spacingAndGlyphs">West Asian</text>
<text x="48.88" y="1020.46" fill="#003a08" stroke="#003a08" textLength="39.25" lengthAdjust="spacingAndGlyphs">Africa</text>
<text x="45.42" y="1038.24" fill="#111" stroke="#111" textLength="46.16" lengthAdjust="spacingAndGlyphs">Rank F</text>
<text x="50.60" y="1056.02" fill="#4a0e00" stroke="#4a0e00" textLength="35.79" lengthAdjust="spacingAndGlyphs">F&gt;0.5</text>
<text x="36.94" y="1073.80" fill="#3c0a46" stroke="#3c0a46" textLength="63.13" lengthAdjust="spacingAndGlyphs">0.2&lt;F&lt;0.5</text>
<text x="34.63" y="1091.58" fill="#1a1a08" stroke="#1a1a08" textLength="67.74" lengthAdjust="spacingAndGlyphs">-0.4&lt;F&lt;0.2</text>
<text x="32.32" y="1109.36" fill="#0e2a20" stroke="#0e2a20" textLength="72.35" lengthAdjust="spacingAndGlyphs">-1.0&lt;F&lt;-0.4</text>
<text x="45.0" y="1127.14" fill="#1a1a14" stroke="#1a1a14" textLength="6.9" lengthAdjust="spacingAndGlyphs">F</text>
<path d="M65.8 1118.34L55.2 1122.74L65.8 1126.94" fill="none" stroke="#1a1a14" stroke-width="0.9"/>
<text x="67.6" y="1127.14" fill="#1a1a14" stroke="#1a1a14" textLength="24.0" lengthAdjust="spacingAndGlyphs">-1.0</text>
</g>
</svg></body></html>
